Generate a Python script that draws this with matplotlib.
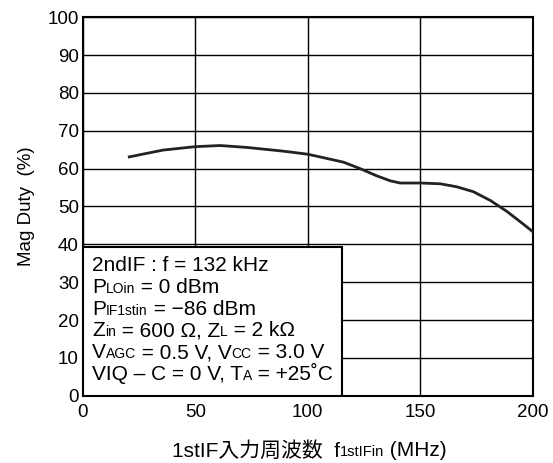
import numpy as np
import matplotlib.pyplot as plt
from matplotlib.patches import Rectangle
from matplotlib.offsetbox import TextArea, HPacker, AnchoredOffsetbox

plt.rcParams['font.family'] = ['Liberation Sans', 'Noto Sans CJK JP']

# curve
freq = [20.6, 35.7, 50, 61, 72.8, 87.7, 92.1, 100, 106.9, 115.9, 123.3, 130.7, 136.6,
        141.1, 150, 158.9, 166.3, 173.7, 181.2, 188.6, 196, 200]
duty = [63.1, 64.9, 65.8, 66.1, 65.6, 64.7, 64.4, 63.8, 62.9, 61.7, 60.0, 58.1, 56.8,
        56.2, 56.2, 56.0, 55.2, 53.9, 51.6, 48.7, 45.3, 43.4]

xticks = [0, 50, 100, 150, 200]
yticks = list(range(0, 101, 10))

# condition lines: (text, is_subscript) pieces
cond_lines = [
    [('2ndIF : f = 132 kHz', 0)],
    [('P', 0), ('LOin', 1), (' = 0 dBm', 0)],
    [('P', 0), ('IF1stin', 1), (' = \u221286 dBm', 0)],
    [('Z', 0), ('in', 1), (' = 600 \u03a9, Z', 0), ('L', 1), (' = 2 k\u03a9', 0)],
    [('V', 0), ('AGC', 1), (' = 0.5 V, V', 0), ('CC', 1), (' = 3.0 V', 0)],
    [('VIQ \u2013 C = 0 V, T', 0), ('A', 1), (' = +25\u02daC', 0)],
]

fig = plt.figure(figsize=(5.53, 4.63), dpi=100)
ax = fig.add_axes([0.150, 0.145, 0.813, 0.818])

ax.set_xlim(0, 200)
ax.set_ylim(0, 100)
ax.set_xticks(xticks)
ax.set_yticks(yticks)
ax.tick_params(length=0, labelsize=13.5)
ax.tick_params(axis='y', pad=3)
ax.tick_params(axis='x', pad=6)
ax.grid(True, color='black', lw=1)
for s in ax.spines.values():
    s.set_linewidth(1.5)

ax.plot(freq, duty, color='#222222', lw=2, zorder=3)

# white box with conditions
ax.add_patch(Rectangle((0, 0), 115.3, 39.2, facecolor='white', edgecolor='black',
                       lw=1.5, zorder=4))

fig.canvas.draw()
renderer = fig.canvas.get_renderer()
inv = ax.transData.inverted()
for i, pieces in enumerate(cond_lines):
    x = 4.0
    y = 32.9 - i * 5.74
    for txt, sub in pieces:
        t = ax.text(x, y, txt, fontsize=10 if sub else 15, va='baseline', ha='left',
                    zorder=5)
        bb = t.get_window_extent(renderer)
        x = inv.transform((bb.x1, bb.y0))[0]

ax.set_ylabel('Mag Duty  (%)', fontsize=13.5, labelpad=9)

# x label built from pieces so the Japanese glyphs and the small subscript both show
parts = [TextArea('1stIF入力周波数  f', textprops=dict(fontsize=15)),
         TextArea('1stIFin', textprops=dict(fontsize=10.5)),
         TextArea(' (MHz)', textprops=dict(fontsize=15))]
box = HPacker(children=parts, align='baseline', pad=0, sep=0)
anch = AnchoredOffsetbox(loc='center', child=box, frameon=False,
                         bbox_to_anchor=(0.559, 0.027), bbox_transform=fig.transFigure)
fig.add_artist(anch)

fig.savefig('out.png', dpi=100)
